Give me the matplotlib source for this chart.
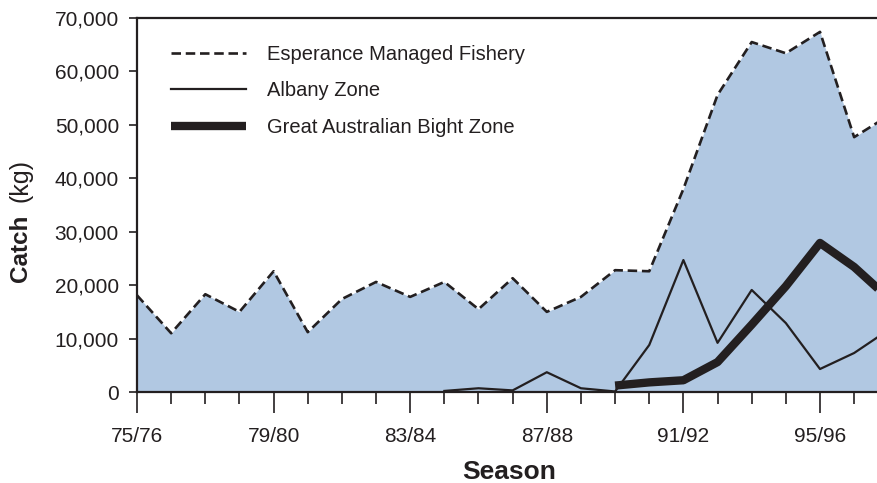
import numpy as np
import matplotlib
matplotlib.use('Agg')
import matplotlib.pyplot as plt
from matplotlib.ticker import FuncFormatter, MultipleLocator

plt.rcParams['font.family'] = ['Liberation Sans', 'DejaVu Sans']

##################################################
# Data (catch in kg per season)
##################################################

seasons = ['75/76', '76/77', '77/78', '78/79', '79/80', '80/81', '81/82', '82/83',
           '83/84', '84/85', '85/86', '86/87', '87/88', '88/89', '89/90', '90/91',
           '91/92', '92/93', '93/94', '94/95', '95/96', '96/97', '97/98']

esperance = [18100, 11000, 18300, 15000, 22600, 11200, 17400, 20600,
             17800, 20600, 15500, 21300, 15000, 17800, 22800, 22600,
             38000, 55600, 65500, 63400, 67400, 47700, 51700]

# Albany zone starts at 84/85
albany_start = 9
albany = [200, 700, 300, 3700, 700, 100, 8800, 24700, 9200, 19100, 12900, 4300, 7300, 11600]

# Great Australian Bight zone starts at 89/90
gab_start = 14
gab = [1200, 1800, 2200, 5600, 12600, 19800, 27900, 23400, 17600]

tick_labels = ['75/76', '79/80', '83/84', '87/88', '91/92', '95/96']

ink = '#231f20'
fill_col = '#b1c8e2'

##################################################
# Plot
##################################################

fig = plt.figure(figsize=(8.78, 4.83), dpi=100)
ax = fig.add_axes([137 / 878, 1 - 392 / 483, 1 - 137 / 878, (392 - 18) / 483])

x = np.arange(len(seasons))
x_alb = np.arange(albany_start, albany_start + len(albany))
x_gab = np.arange(gab_start, gab_start + len(gab))

ax.fill_between(x, esperance, 0, color=fill_col, lw=0, zorder=1)
ax.plot(x, esperance, color=ink, lw=1.9, dashes=(3.6, 1.8),
        label='Esperance Managed Fishery', zorder=3)
ax.plot(x_alb, albany, color=ink, lw=1.6, label='Albany Zone', zorder=3)
ax.plot(x_gab, gab, color=ink, lw=6, solid_capstyle='butt',
        label='Great Australian Bight Zone', zorder=4)

ax.set_xlim(0, (878 - 137) / 34.15)
ax.set_ylim(0, 70000)

ax.set_xticks(np.arange(0, len(seasons), 4))
ax.set_xticklabels(tick_labels)
ax.xaxis.set_minor_locator(MultipleLocator(1))
ax.yaxis.set_major_locator(MultipleLocator(10000))
ax.yaxis.set_major_formatter(FuncFormatter(lambda v, p: f'{int(v):,}'))

ax.tick_params(axis='x', which='major', direction='out', length=15, width=1.2,
               color=ink, labelsize=15, labelcolor=ink, pad=10)
ax.tick_params(axis='x', which='minor', direction='out', length=8.5, width=1.2, color=ink)
ax.tick_params(axis='y', direction='out', length=6, width=1.2, color=ink,
               labelsize=15, labelcolor=ink, pad=7)

ax.spines['right'].set_visible(False)
for s in ['left', 'top', 'bottom']:
    ax.spines[s].set_color(ink)
    ax.spines[s].set_linewidth(1.6)
ax.spines['bottom'].set_zorder(5)
ax.set_facecolor('white')

leg = ax.legend(loc='upper left', bbox_to_anchor=(0.022, 0.976), frameon=False,
                fontsize=14.5, handlelength=3.72, handletextpad=1.05, labelspacing=0.86,
                labelcolor=ink)

fig.text(509 / 878, 1 - 472 / 483, 'Season', ha='center', va='center',
         fontsize=19, fontweight='bold', color=ink)
fig.text(21 / 878, 1 - 248 / 483, 'Catch', rotation=90, ha='center', va='center',
         fontsize=17.5, fontweight='bold', color=ink)
fig.text(21 / 878, 1 - 180 / 483, '(kg)', rotation=90, ha='center', va='center',
         fontsize=18, color=ink)

plt.savefig('out.png', dpi=100)
